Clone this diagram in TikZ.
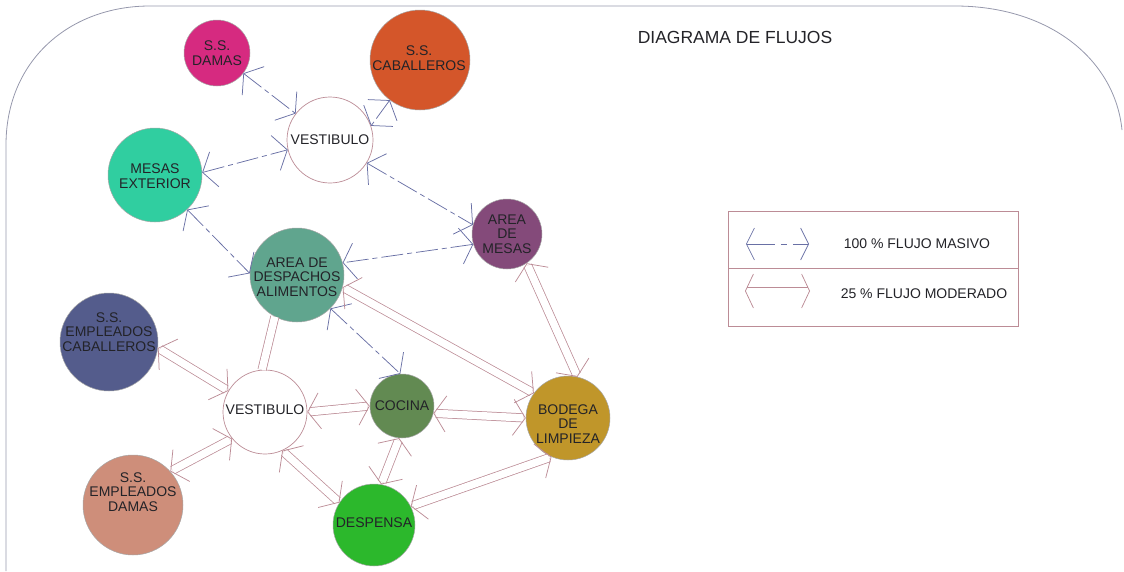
\documentclass[tikz,border=0pt]{standalone}
\usepackage{fontspec}
\setmainfont{Liberation Sans}
\usetikzlibrary{arrows.meta}
\definecolor{masc}{RGB}{105,112,165}
\definecolor{modc}{RGB}{188,140,150}
\definecolor{bordc}{RGB}{150,152,172}
\definecolor{txtc}{RGB}{35,35,40}
\definecolor{cdamas}{RGB}{214,42,128}
\definecolor{ccab}{RGB}{212,86,42}
\definecolor{cmesext}{RGB}{48,206,160}
\definecolor{careames}{RGB}{132,74,122}
\definecolor{cdesp}{RGB}{96,165,142}
\definecolor{cempcab}{RGB}{84,92,140}
\definecolor{ccocina}{RGB}{98,138,82}
\definecolor{cbodega}{RGB}{192,150,42}
\definecolor{cempdam}{RGB}{206,142,122}
\definecolor{cdespensa}{RGB}{44,184,44}
\newcommand\modlink[2]{\draw[modl] (#1) -- (#2); \draw[modt] (#1) -- (#2);}
\begin{document}
\begin{tikzpicture}[x=1pt,y=-1pt,
  circ/.style={circle, inner sep=0pt, minimum size=#1, draw=black!35, line width=0.5pt},
  wcirc/.style={circle, inner sep=0pt, minimum size=#1, draw=modc, line width=0.7pt, fill=white},
  lbl/.style={align=center, inner sep=0pt, text=txtc, font=\fontsize{14}{14.5}\selectfont},
  mas/.style={draw=masc, line width=0.75pt, dash pattern=on 22pt off 4pt on 5pt off 4pt,
    {Straight Barb[length=12pt,width=36pt,line width=0.75pt]}-{Straight Barb[length=12pt,width=36pt,line width=0.75pt]}},
  modl/.style={draw=modc, line width=0.75pt, double=white, double distance=7.5pt, shorten <=2.5pt, shorten >=2.5pt},
  modt/.style={draw=white, line width=0.2pt,
    {Straight Barb[length=12pt,width=36pt,color=modc,line width=0.75pt]}-{Straight Barb[length=12pt,width=36pt,color=modc,line width=0.75pt]}},
  masleg/.style={draw=masc, line width=0.75pt, dash pattern=on 28pt off 6pt on 6pt off 6pt,
    {Straight Barb[length=8pt,width=32pt,line width=0.75pt]}-{Straight Barb[length=8pt,width=32pt,line width=0.75pt]}},
  modlegl/.style={draw=modc, line width=0.75pt, double=white, double distance=7pt, shorten <=2pt, shorten >=2pt},
  modlegt/.style={draw=white, line width=0.2pt,
    {Straight Barb[length=8pt,width=34pt,color=modc,line width=0.75pt]}-{Straight Barb[length=8pt,width=34pt,color=modc,line width=0.75pt]}},
  bord/.style={draw=bordc, line width=0.8pt},
  legc/.style={draw=modc, line width=0.8pt}
]
\useasboundingbox (0,0) rectangle (1124,571);
% frame
\draw[bord] (6,571) -- (6,145) .. controls (6,60) and (70,6) .. (150,6) -- (955,6) .. controls (1050,6) and (1115,60) .. (1122,130);
% title
\node[text=txtc, font=\fontsize{17.5}{20}\selectfont] (title) at (735,37) {DIAGRAMA DE FLUJOS};
% circles
\node[circ=66, fill=cdamas] (sd) at (217,53) {};
\node[lbl] at (sd) {S.S.\\DAMAS};
\node[circ=100, fill=ccab] (sc) at (420,60) {};
\node[lbl] at (419,58) {S.S.\\CABALLEROS};
\node[wcirc=86] (v1) at (330,140) {};
\node[lbl] at (v1) {VESTIBULO};
\node[circ=94, fill=cmesext] (me) at (155,175) {};
\node[lbl] at (155,176) {MESAS\\EXTERIOR};
\node[circ=70, fill=careames] (am) at (507,234) {};
\node[lbl] at (am) {AREA\\DE\\MESAS};
\node[circ=94, fill=cdesp] (ad) at (297,275) {};
\node[lbl] at (297,277) {AREA DE\\DESPACHOS\\ALIMENTOS};
\node[circ=98, fill=cempcab] (ec) at (109,342) {};
\node[lbl] at (109,332) {S.S.\\EMPLEADOS\\CABALLEROS};
\node[wcirc=84] (v2) at (265,412) {};
\node[lbl] at (265,410) {VESTIBULO};
\node[circ=64, fill=ccocina] (co) at (402,406) {};
\node[lbl] at (402,406) {COCINA};
\node[circ=84, fill=cbodega] (bo) at (568,418) {};
\node[lbl] at (568,424) {BODEGA\\DE\\LIMPIEZA};
\node[circ=100, fill=cempdam] (ed) at (133,505) {};
\node[lbl] at (133,492) {S.S.\\EMPLEADOS\\DAMAS};
\node[circ=82, fill=cdespensa] (de) at (374,525) {};
\node[lbl] at (374,523) {DESPENSA};
% 100 % flujo masivo
\draw[mas] (sd) -- (v1);
\draw[mas] (sc.-127) -- (v1.19);
\draw[mas] (me.3) -- (v1.193);
\draw[mas] (v1.-32) -- (am.165);
\draw[mas] (me.-47) -- (ad.178);
\draw[mas] (am.197) -- (ad.15);
\draw[mas] (ad.-45) -- (co.93);
% 25 % flujo moderado
\modlink{ad.-15}{bo.144}
\modlink{am.-56}{bo.77}
\modlink{ec.-7}{v2.150}
\modlink{ed.42}{v2.-141}
\modlink{v2.0}{co.180}
\modlink{co.-13}{bo.180}
\modlink{co.-95}{de.80}
\modlink{v2.-66}{de.147}
\modlink{de.27}{bo.-113}
\draw[modl, shorten <=0pt, shorten >=0pt] (ad.-118) -- (v2.94);
% legend
\draw[legc] (728,211) rectangle (1018,326);
\draw[legc] (728,268) -- (1018,268);
\coordinate (l1a) at (746,244);
\coordinate (l1b) at (809,244);
\draw[masleg] (l1a) -- (l1b);
\coordinate (l2a) at (745,291);
\coordinate (l2b) at (810,291);
\draw[modlegl] (l2a) -- (l2b);
\draw[modlegt] (l2a) -- (l2b);
\node[lbl] (t1) at (917,244) {100 \% FLUJO MASIVO};
\node[lbl] (t2) at (924,294) {25 \% FLUJO MODERADO};
\end{tikzpicture}
\end{document}
